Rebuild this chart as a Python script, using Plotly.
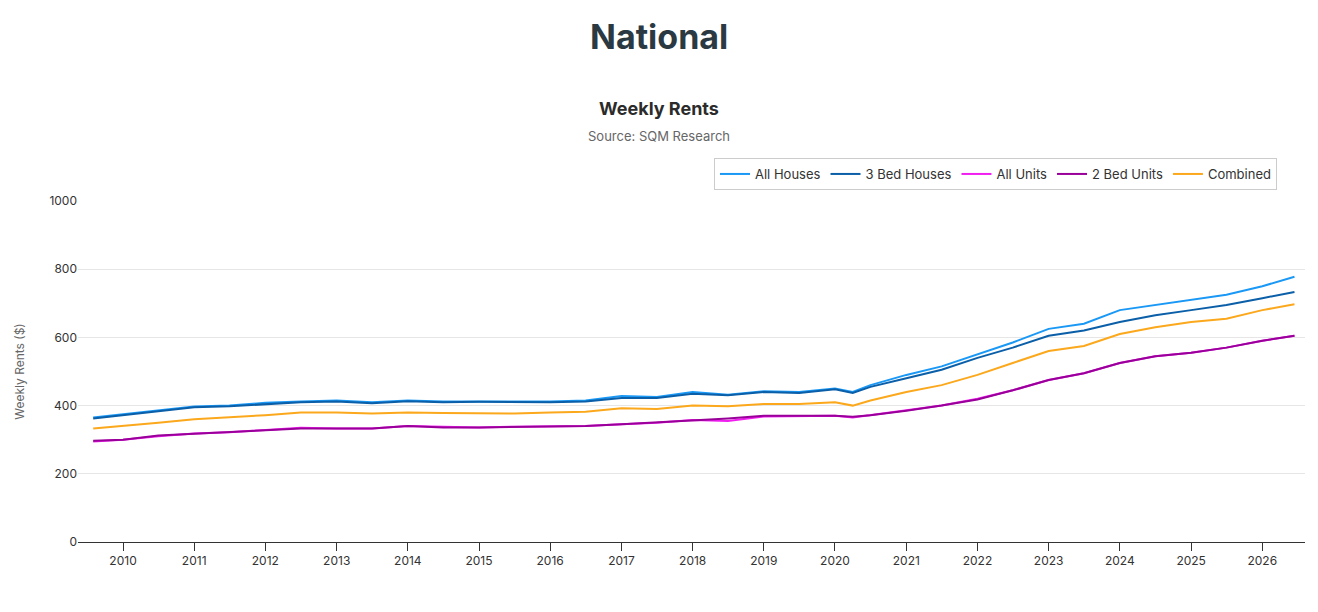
import plotly.graph_objects as go

# half-yearly readings of the weekly series
dates = [
    "2009-08-01", "2010-01-01", "2010-07-01", "2011-01-01", "2011-07-01",
    "2012-01-01", "2012-07-01", "2013-01-01", "2013-07-01", "2014-01-01",
    "2014-07-01", "2015-01-01", "2015-07-01", "2016-01-01", "2016-07-01",
    "2017-01-01", "2017-07-01", "2018-01-01", "2018-07-01", "2019-01-01",
    "2019-07-01", "2020-01-01", "2020-04-01", "2020-07-01", "2021-01-01",
    "2021-07-01", "2022-01-01", "2022-07-01", "2023-01-01", "2023-07-01",
    "2024-01-01", "2024-07-01", "2025-01-01", "2025-07-01", "2026-01-01",
    "2026-06-15",
]
all_houses = [365, 375, 385, 397, 400, 408, 412, 415, 410, 415, 412, 413, 412, 412,
              415, 428, 425, 440, 432, 442, 440, 450, 440, 460, 490, 515, 550, 585,
              625, 640, 680, 695, 710, 725, 750, 778]
bed3_houses = [362, 372, 383, 395, 398, 405, 410, 412, 407, 413, 410, 411, 410, 410,
               412, 422, 422, 435, 430, 440, 437, 448, 437, 455, 480, 505, 540, 570,
               605, 620, 645, 665, 680, 695, 715, 733]
all_units = [295, 300, 310, 318, 322, 328, 335, 333, 333, 340, 338, 336, 338, 338,
             340, 345, 350, 358, 355, 368, 368, 370, 365, 372, 385, 400, 420, 445,
             475, 495, 525, 545, 555, 570, 590, 605]
bed2_units = [297, 300, 312, 318, 322, 328, 333, 333, 333, 340, 336, 336, 338, 340,
              340, 345, 350, 355, 362, 370, 370, 370, 367, 372, 385, 400, 418, 445,
              475, 495, 525, 545, 555, 570, 590, 605]
combined = [333, 340, 350, 360, 365, 372, 380, 380, 377, 380, 378, 378, 377, 380,
            382, 392, 390, 400, 398, 405, 405, 410, 400, 415, 440, 460, 490, 525,
            560, 575, 610, 630, 645, 655, 680, 697]

series = [
    ("All Houses", all_houses, "#1a98f5"),
    ("3 Bed Houses", bed3_houses, "#0a5fa8"),
    ("All Units", all_units, "#f01ff0"),
    ("2 Bed Units", bed2_units, "#990099"),
    ("Combined", combined, "#fba81c"),
]

fig = go.Figure()
for name, vals, color in series:
    fig.add_trace(go.Scatter(
        x=dates, y=vals, name=name, mode="lines",
        line=dict(color=color, width=2),
    ))

# page body has an 8px margin, so figure coords = page coords - 8
W, Hpx = 1318, 612
OFF = 8
L, R, T, B = 78 - OFF, 1318 - (1305 - OFF), 201 - OFF, 612 - (542 - OFF)
PW, PH = W - L - R, Hpx - T - B

def px(x):
    return (x - OFF - L) / PW

def py(y):
    return (Hpx - B - (y - OFF)) / PH

fig.update_layout(
    width=W, height=Hpx,
    paper_bgcolor="white", plot_bgcolor="white",
    font=dict(family="Inter, Lato, sans-serif", color="#333", size=12),
    margin=dict(l=L, r=R, t=T, b=B, autoexpand=False),
    showlegend=True,
    legend=dict(orientation="h", x=px(1277), xanchor="right", y=py(174), yanchor="middle",
                bordercolor="#ccc", borderwidth=1, font=dict(size=13)),
)
titles = [
    ("<b>National</b>", 36, 34, "#2b3a42"),
    ("<b>Weekly Rents</b>", 108, 18, "#2b2b2b"),
    ("Source: SQM Research", 136, 13, "#666"),
]
for text, ypix, size, color in titles:
    fig.add_annotation(text=text, x=px(659), y=py(ypix), xref="paper", yref="paper",
                       xanchor="center", yanchor="middle", showarrow=False,
                       font=dict(size=size, color=color))

fig.update_xaxes(
    range=["2009-05-15", "2026-08-08"], dtick="M12", tickformat="%Y",
    ticks="outside", ticklen=8, tickcolor="#333", showline=True, linecolor="#333",
    showgrid=False, tickfont=dict(size=12, color="#333"),
)
fig.update_yaxes(
    range=[0, 1000], dtick=200, gridcolor="#e6e6e6", zeroline=False,
    title=dict(text="Weekly Rents ($)", font=dict(size=12, color="#666"), standoff=22),
    tickfont=dict(size=12, color="#333"), automargin=False,
)

fig.write_html("out.html")
